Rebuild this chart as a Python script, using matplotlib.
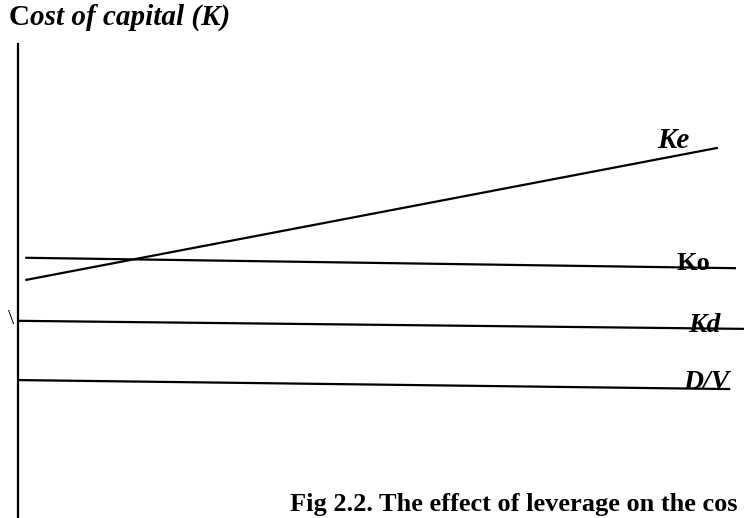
import matplotlib.pyplot as plt

plt.rcParams['font.family'] = ['Liberation Serif', 'DejaVu Serif']

# leverage (x) and cost of capital (y), arbitrary 0-100 units
ke_x = [1.0, 96.4]
ke_y = [50.2, 78.1]
ko_x = [1.0, 98.9]
ko_y = [54.9, 52.7]
kd_x = [0.0, 100.0]
kd_y = [41.6, 39.9]
dv_x = [0.0, 98.1]
dv_y = [29.1, 27.2]

labels = ['Ke', 'Ko', 'Kd', 'D/V']
label_x = [90.3, 93.0, 94.6, 94.8]
label_y = [79.7, 53.6, 40.6, 28.5]
label_style = ['italic', 'normal', 'italic', 'italic']
label_size = [21, 19, 20, 20]

fig = plt.figure(figsize=(7.44, 5.18), dpi=100)
ax = fig.add_axes([18 / 744, 0, 726 / 744, 474 / 518])
ax.set_xlim(0, 100)
ax.set_ylim(0, 100)

for xs, ys in [(ke_x, ke_y), (ko_x, ko_y), (kd_x, kd_y), (dv_x, dv_y)]:
    ax.plot(xs, ys, color='black', lw=1.6, solid_capstyle='butt', clip_on=False)

for lab, x, y, st, sz in zip(labels, label_x, label_y, label_style, label_size):
    ax.text(x, y, lab, fontsize=sz, fontweight='bold', fontstyle=st,
            ha='center', va='center', clip_on=False)

# stray backslash next to the axis
ax.text(-0.96, 41.8, '\\', fontsize=16, ha='center', va='center', clip_on=False)

for s in ['top', 'right', 'bottom']:
    ax.spines[s].set_visible(False)
ax.spines['left'].set_linewidth(1.6)
ax.set_xticks([])
ax.set_yticks([])

# title: upright C, rest bold italic
t1 = fig.text(9 / 744, 1 - 25 / 518, 'C', fontsize=21, fontweight='bold',
              ha='left', va='baseline')
ax.annotate('ost of capital (K)', xy=(1, 0), xycoords=t1, fontsize=21,
            fontweight='bold', fontstyle='italic', ha='left', va='bottom',
            annotation_clip=False)

# caption as visible in the reference (runs up to the right edge)
fig.text(290 / 744, 1 - 511 / 518,
         'Fig 2.2. The effect of leverage on the cos',
         fontsize=19, fontweight='bold', ha='left', va='baseline')

fig.savefig('out.png', dpi=100)
